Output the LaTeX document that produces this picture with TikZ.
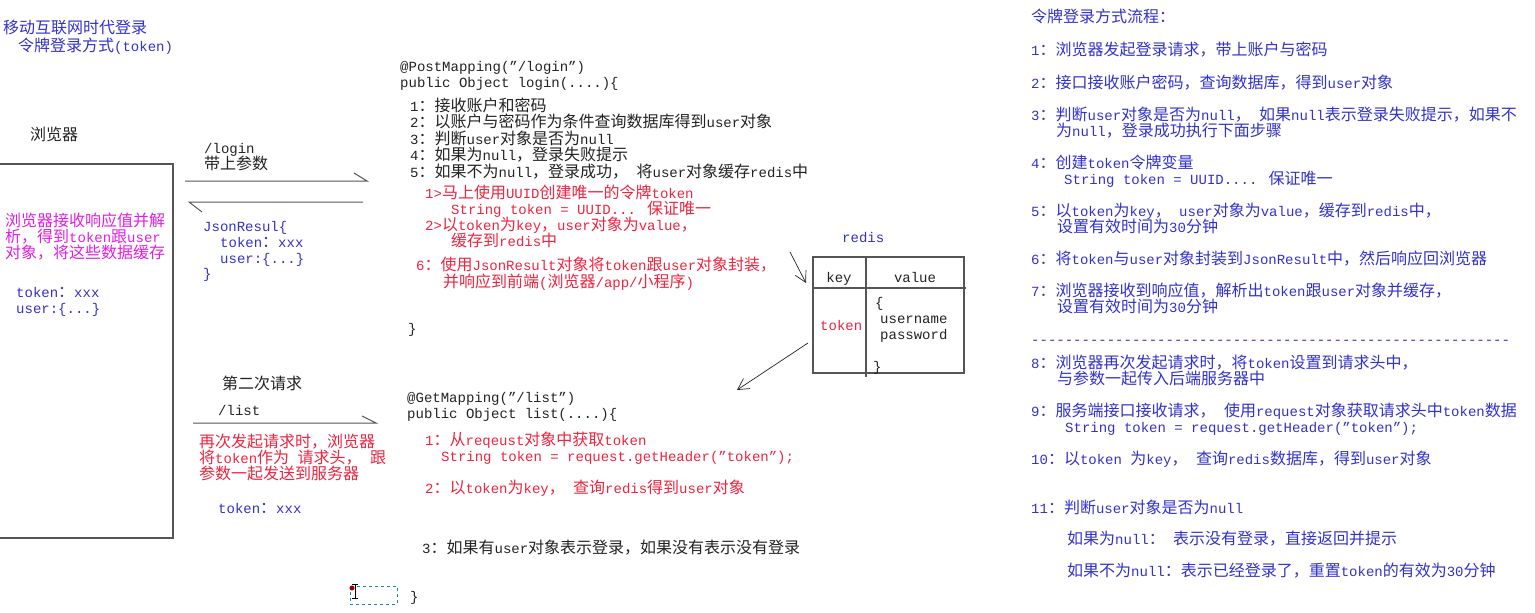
\documentclass[tikz,border=0pt]{standalone}
\usepackage{fontspec}
\setmainfont{Liberation Mono}[Scale=0.875,Ligatures=TeXOff]
\newfontfamily\cjkf{Noto Sans CJK SC}
\newfontfamily\latf{Liberation Mono}[Scale=0.875,Ligatures=TeXOff]
\usetikzlibrary{arrows.meta}
\XeTeXinterchartokenstate=1
\newXeTeXintercharclass\CJKcls
\newcount\cjkcnt
\cjkcnt="3000 \loop\ifnum\cjkcnt<"3040 \XeTeXcharclass\cjkcnt=\CJKcls \advance\cjkcnt by 1 \repeat
\cjkcnt="4E00 \loop\ifnum\cjkcnt<"A000 \XeTeXcharclass\cjkcnt=\CJKcls \advance\cjkcnt by 1 \repeat
\cjkcnt="FF00 \loop\ifnum\cjkcnt<"FFF0 \XeTeXcharclass\cjkcnt=\CJKcls \advance\cjkcnt by 1 \repeat
\XeTeXinterchartoks 0 \CJKcls = {\cjkf}
\XeTeXinterchartoks 4095 \CJKcls = {\cjkf}
\XeTeXinterchartoks \CJKcls 0 = {\latf}
\XeTeXinterchartoks \CJKcls 4095 = {\latf}
\definecolor{tblue}{RGB}{50,50,205}
\definecolor{tred}{RGB}{238,36,64}
\definecolor{tmag}{RGB}{228,30,228}
\definecolor{tblack}{RGB}{35,35,35}
\definecolor{lgray}{RGB}{85,85,85}
\definecolor{selbox}{RGB}{40,130,170}
\tikzset{
  txt/.style={anchor=west, inner sep=0pt, text height=14pt, text depth=2pt,
    font=\latf\fontsize{16}{16}\selectfont, text=tblack},
  bl/.style={txt, text=tblue},
  rd/.style={txt, text=tred},
  mg/.style={txt, text=tmag},
  ctr/.style={txt, anchor=center},
  wire/.style={draw=lgray, line width=1pt},
  frame/.style={draw=lgray, line width=1.4pt},
  barb/.style={draw=tblack, line width=0.7pt, -{Straight Barb[length=11pt,width=12pt]}}
}
\begin{document}
\begin{tikzpicture}[x=1pt, y=-1pt]
\useasboundingbox (0,0) rectangle (1535,613);
\fill[white] (0,0) rectangle (1535,613);
% ---------- left ----------
\node[bl] (tA) at (3,28) {移动互联网时代登录};
\node[bl] (tB) at (18,45) {令牌登录方式(token)};
\node[txt] (brw) at (30,134) {浏览器};
\draw[frame] (0,164) -- (173,164) -- (173,538) -- (0,538);
\node[mg] (m1) at (5,220) {浏览器接收响应值并解};
\node[mg] (m2) at (5,236) {析，得到token跟user};
\node[mg] (m3) at (5,252) {对象，将这些数据缓存};
\node[bl] (bt1) at (16,291) {token：xxx};
\node[bl] (bu1) at (16,307) {user:\{...\}};
% login request / response
\node[txt] (lg1) at (204,147) {/login};
\node[txt] (lg2) at (204,163) {带上参数};
\coordinate (q1s) at (185,181); \coordinate (q1e) at (367,181);
\draw[wire] (q1s) -- (q1e) -- +(-13,-8);
\coordinate (q2s) at (363,202); \coordinate (q2e) at (189,202);
\draw[wire] (q2s) -- (q2e) -- +(13,10);
\node[bl] (j1) at (203,225) {JsonResul\{};
\node[bl] (j2) at (220,241) {token：xxx};
\node[bl] (j3) at (220,257) {user:\{...\}};
\node[bl] (j4) at (203,272) {\}};
% second request
\node[txt] (s1) at (222,383) {第二次请求};
\node[txt] (s2) at (218,409) {/list};
\coordinate (q3s) at (193,423); \coordinate (q3e) at (376,423);
\draw[wire] (q3s) -- (q3e) -- +(-14,-7);
\node[rd] (s3) at (199,441) {再次发起请求时，浏览器};
\node[rd] (s4) at (199,457) {将token作为 请求头， 跟};
\node[rd] (s5) at (199,473) {参数一起发送到服务器};
\node[bl] (s6) at (218,507) {token：xxx};
% ---------- middle: login ----------
\node[txt] (p0) at (400,65) {@PostMapping(”/login”)};
\node[txt] (p1) at (400,81) {public Object login(....)\{};
\node[txt] (p2) at (410,105) {1：接收账户和密码};
\node[txt] (p3) at (410,121) {2：以账户与密码作为条件查询数据库得到user对象};
\node[txt] (p4) at (410,138) {3：判断user对象是否为null};
\node[txt] (p5) at (410,154) {4：如果为null，登录失败提示};
\node[txt] (p6) at (410,171) {5：如果不为null，登录成功， 将user对象缓存redis中};
\node[rd] (p7) at (425,192) {1>马上使用UUID创建唯一的令牌token};
\node[rd] (p8) at (451,208) {String token = UUID... 保证唯一};
\node[rd] (p9) at (425,224) {2>以token为key，user对象为value，};
\node[rd] (p10) at (451,240) {缓存到redis中};
\node[rd] (p11) at (416,264) {6：使用JsonResult对象将token跟user对象封装，};
\node[rd] (p12) at (443,281) {并响应到前端(浏览器/app/小程序)};
\node[txt] (p13) at (408,327) {\}};
% ---------- middle: list ----------
\node[txt] (g0) at (407,396) {@GetMapping(”/list”)};
\node[txt] (g1) at (407,412) {public Object list(....)\{};
\node[rd] (g2) at (425,439) {1：从reqeust对象中获取token};
\node[rd] (g3) at (441,455) {String token = request.getHeader(”token”);};
\node[rd] (g4) at (425,487) {2：以token为key， 查询redis得到user对象};
\node[txt] (g5) at (422,547) {3：如果有user对象表示登录，如果没有表示没有登录};
\node[txt] (g6) at (410,595) {\}};
% selection artefact
\draw[selbox, dashed, line width=0.8pt] (350,586) rectangle (397,604);
\fill[red!60!black] (352,588) circle (2.5pt);
\draw[black, line width=0.8pt] (355,584) -- (355,598) (352,584) -- (358,584) (352,598) -- (358,598);
% ---------- redis ----------
\node[bl] (rl) at (842,236) {redis};
\draw[frame, line width=1.1pt] (813,257) rectangle (964,373);
\draw[frame, line width=1.1pt] (866,257) -- (866,377);
\draw[frame, line width=1.1pt] (813,288) -- (966,288);
\node[ctr] (rk) at (839,276) {key};
\node[ctr] (rv) at (915,276) {value};
\node[rd] (rt) at (820,324) {token};
\node[txt] (rb1) at (875,301) {\{};
\node[txt] (ru) at (880,317) {username};
\node[txt] (rp) at (880,333) {password};
\node[txt] (rb2) at (873,365) {\}};
\coordinate (a1s) at (790,252); \coordinate (a1e) at (806,283);
\draw[barb] (a1s) -- (a1e);
\coordinate (a2s) at (808,343); \coordinate (a2e) at (737,390);
\draw[barb] (a2s) -- (a2e);
% ---------- right column ----------
\node[bl] (r0) at (1031,17) {令牌登录方式流程：};
\node[bl] (r1) at (1031,49) {1：浏览器发起登录请求，带上账户与密码};
\node[bl] (r2) at (1031,82) {2：接口接收账户密码，查询数据库，得到user对象};
\node[bl] (r3) at (1031,114) {3：判断user对象是否为null， 如果null表示登录失败提示，如果不};
\node[bl] (r3b) at (1056,130) {为null，登录成功执行下面步骤};
\node[bl] (r4) at (1031,162) {4：创建token令牌变量};
\node[bl] (r4b) at (1064,178) {String token = UUID.... 保证唯一};
\node[bl] (r5) at (1031,210) {5：以token为key， user对象为value，缓存到redis中，};
\node[bl] (r5b) at (1057,226) {设置有效时间为30分钟};
\node[bl] (r6) at (1031,258) {6：将token与user对象封装到JsonResult中，然后响应回浏览器};
\node[bl] (r7) at (1031,290) {7：浏览器接收到响应值，解析出token跟user对象并缓存，};
\node[bl] (r7b) at (1057,306) {设置有效时间为30分钟};
\node[bl] (rdash) at (1031,338) {---------------------------------------------------------};
\node[bl] (r8) at (1031,362) {8：浏览器再次发起请求时，将token设置到请求头中，};
\node[bl] (r8b) at (1057,378) {与参数一起传入后端服务器中};
\node[bl] (r9) at (1031,410) {9：服务端接口接收请求， 使用request对象获取请求头中token数据};
\node[bl] (r9b) at (1065,426) {String token = request.getHeader(”token”);};
\node[bl] (r10) at (1031,458) {10：以token 为key， 查询redis数据库，得到user对象};
\node[bl] (r11) at (1031,507) {11：判断user对象是否为null};
\node[bl] (r11a) at (1067,538) {如果为null： 表示没有登录，直接返回并提示};
\node[bl] (r11b) at (1067,570) {如果不为null：表示已经登录了，重置token的有效为30分钟};
\end{tikzpicture}
\end{document}
